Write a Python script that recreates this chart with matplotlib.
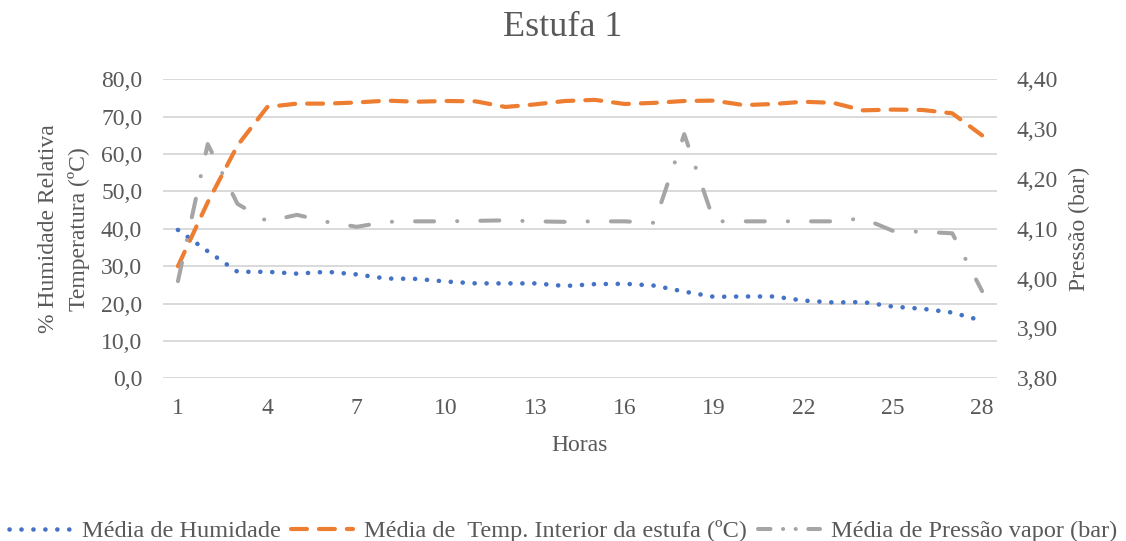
import matplotlib
matplotlib.use("Agg")
import matplotlib.pyplot as plt
from matplotlib.ticker import FuncFormatter
from matplotlib.lines import Line2D

plt.rcParams['font.family'] = ['Liberation Serif', 'DejaVu Serif']
plt.rcParams['lines.scale_dashes'] = False

# hourly averages for the greenhouse
horas = list(range(1, 29))
humidade = [39.7, 34.0, 28.5, 28.5, 28.0, 28.5, 27.8, 26.7, 26.6, 25.9,
            25.4, 25.4, 25.4, 24.7, 25.2, 25.3, 24.8, 23.2, 21.8, 21.9,
            21.9, 20.8, 20.3, 20.4, 19.2, 18.6, 17.6, 15.4]
temperatura = [30.0, 47.1, 62.3, 72.6, 73.5, 73.5, 73.8, 74.3, 74.0, 74.2,
               74.1, 72.6, 73.3, 74.2, 74.5, 73.4, 73.7, 74.2, 74.3, 73.1,
               73.4, 74.0, 73.7, 71.7, 71.9, 71.8, 70.9, 65.0]
pressao = [3.995, 4.27, 4.15, 4.115, 4.128, 4.114, 4.104, 4.114, 4.115, 4.115,
           4.116, 4.117, 4.115, 4.114, 4.115, 4.115, 4.112, 4.29, 4.115, 4.115,
           4.115, 4.115, 4.115, 4.121, 4.096, 4.094, 4.091, 3.975]

nomes = ['Média de Humidade',
         'Média de  Temp. Interior da estufa (ºC)',
         'Média de Pressão vapor (bar)']

azul = '#4472C4'
laranja = '#ED7D31'
cinza = '#A5A5A5'
texto = '#595959'
fs = 17

fig = plt.figure(figsize=(11.26, 5.41), dpi=100)
ax = fig.add_axes([0.1448, 0.3007, 0.7406, 0.5527])
ax2 = ax.twinx()

l1, = ax.plot(horas, humidade, color=azul, lw=3.3, dashes=(0.1, 8.5),
              dash_capstyle='round', solid_joinstyle='round')
l2, = ax.plot(horas, temperatura, color=laranja, lw=3.0, dashes=(11.5, 8.6),
              dash_capstyle='round', dash_joinstyle='round')
l3, = ax2.plot(horas, pressao, color=cinza, lw=2.9,
               dashes=(13.7, 16.6, 0.1, 16.6),
               dash_capstyle='round', dash_joinstyle='round')

# shorter pattern so the legend sample shows dash + dots
l3_leg = Line2D([], [], color=cinza, lw=2.9, dashes=(9, 9, 0.1, 9, 0.1, 9),
                dash_capstyle='round')

ax.set_xlim(0.5, 28.5)
ax.set_ylim(0, 80)
ax2.set_ylim(3.8, 4.4)
ax.set_xticks(horas[::3])
ax.set_yticks(range(0, 81, 10))
ax2.set_yticks([3.8 + 0.1 * i for i in range(7)])
ax.yaxis.set_major_formatter(FuncFormatter(lambda v, p: f'{v:.1f}'.replace('.', ',')))
ax2.yaxis.set_major_formatter(FuncFormatter(lambda v, p: f'{v:.2f}'.replace('.', ',')))

ax.yaxis.grid(True, color='#d9d9d9', lw=1.4)
ax.set_axisbelow(True)
for a in (ax, ax2):
    for s in a.spines.values():
        s.set_visible(False)
    a.tick_params(length=0, labelsize=fs, labelcolor=texto)
ax.tick_params(axis='y', pad=15)
ax.tick_params(axis='x', pad=14)
ax2.tick_params(axis='y', pad=14)

ax.set_ylabel('% Humidade Relativa\nTemperatura (ºC)', fontsize=fs, color=texto,
              labelpad=8, linespacing=1.5)
ax2.set_ylabel('Pressão (bar)', fontsize=fs, color=texto, labelpad=8)
ax.set_xlabel('Horas', fontsize=fs, color=texto, labelpad=12)

fig.text(0.5, 1 - 28 / 541, 'Estufa 1', ha='center', va='center',
         fontsize=26, color=texto)

fig.legend([l1, l2, l3_leg], nomes, loc='center', bbox_to_anchor=(0.5, 1 - 531 / 541),
           ncol=3, frameon=False, fontsize=17.5, labelcolor=texto,
           handlelength=2.55, handletextpad=0.45, columnspacing=0.45)

fig.savefig('out.png', dpi=100)
